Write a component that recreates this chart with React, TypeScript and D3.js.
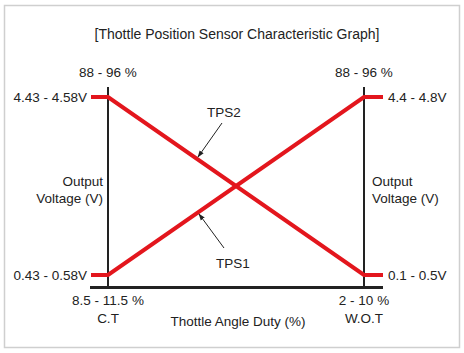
import React from "react";
import * as d3 from "d3";

// throttle positions along the bottom axis
const positions = ["C.T", "W.O.T"];
const dutyLabels = ["8.5 - 11.5 %", "2 - 10 %"];
const topDutyLabels = ["88 - 96 %", "88 - 96 %"];

// voltage level labels at each end (high, low)
const leftVoltLabels = ["4.43 - 4.58V", "0.43 - 0.58V"];
const rightVoltLabels = ["4.4 - 4.8V", "0.1 - 0.5V"];

// normalised output level (0 = low, 1 = high) at C.T and W.O.T
const tps1 = [0, 1];
const tps2 = [1, 0];

const W = 464;
const H = 353;
const RED = "#e3161d";
const FONT = "'Liberation Sans', Arial, sans-serif";

export default function App() {
  const x = d3.scalePoint<string>().domain(positions).range([108, 364]);
  const y = d3.scaleLinear().domain([0, 1]).range([275, 97]);
  const stub = 17;

  const line = d3
    .line<[number, number]>()
    .x((d) => d[0])
    .y((d) => d[1]);

  const seriesPath = (vals: number[]) => {
    const x0 = x(positions[0])!;
    const x1 = x(positions[1])!;
    return line([
      [x0 - stub, y(vals[0])],
      [x0, y(vals[0])],
      [x1, y(vals[1])],
      [x1 + stub + 2, y(vals[1])],
    ]);
  };

  const xl = x(positions[0])!;
  const xr = x(positions[1])!;
  const axisY = 287.5;

  return (
    <svg
      width={W}
      height={H}
      style={{ position: "absolute", left: 0, top: 0, background: "#fff" }}
      fontFamily={FONT}
      fontSize={13.5}
      fill="#222"
    >
      <defs>
        <marker id="arr" viewBox="0 0 10 10" refX="9" refY="5" markerWidth="7" markerHeight="7" orient="auto">
          <path d="M0,1.5 L10,5 L0,8.5 z" fill="#222" />
        </marker>
      </defs>
      <rect x={4.5} y={5.5} width={455} height={342} fill="#fff" stroke="#cfcfcf" strokeWidth={1.5} />

      <text x={237} y={39} textAnchor="middle" fontSize={14}>
        [Thottle Position Sensor Characteristic Graph]
      </text>

      {/* vertical axes */}
      {positions.map((p) => (
        <line key={p} x1={x(p)} x2={x(p)} y1={87} y2={axisY} stroke="#222" strokeWidth={2} />
      ))}
      {/* bottom axis */}
      <line x1={90} x2={383} y1={axisY} y2={axisY} stroke="#222" strokeWidth={3} />

      {/* series */}
      <path d={seriesPath(tps1) ?? ""} fill="none" stroke={RED} strokeWidth={4} />
      <path d={seriesPath(tps2) ?? ""} fill="none" stroke={RED} strokeWidth={4} />

      {/* top duty labels */}
      {positions.map((p, i) => (
        <text key={p} x={x(p)} y={77} textAnchor="middle">
          {topDutyLabels[i]}
        </text>
      ))}

      {/* voltage labels */}
      {leftVoltLabels.map((t, i) => (
        <text key={t} x={87} y={y(1 - i) + 5} textAnchor="end">
          {t}
        </text>
      ))}
      {rightVoltLabels.map((t, i) => (
        <text key={t} x={388} y={y(1 - i) + 5} textAnchor="start">
          {t}
        </text>
      ))}

      {/* axis titles */}
      <text x={xl - 5} y={186} textAnchor="end">Output</text>
      <text x={xl - 5} y={203} textAnchor="end">Voltage (V)</text>
      <text x={xr + 8} y={186} textAnchor="start">Output</text>
      <text x={xr + 8} y={203} textAnchor="start">Voltage (V)</text>

      {/* bottom labels */}
      {positions.map((p, i) => (
        <g key={p}>
          <text x={x(p)} y={305} textAnchor="middle">{dutyLabels[i]}</text>
          <text x={x(p)} y={323} textAnchor="middle">{p}</text>
        </g>
      ))}
      <text x={238} y={326} textAnchor="middle">Thottle Angle Duty (%)</text>

      {/* series callouts */}
      <text x={224} y={117} textAnchor="middle">TPS2</text>
      <line x1={222} y1={123} x2={198} y2={157} stroke="#222" strokeWidth={1} markerEnd="url(#arr)" />
      <text x={233} y={268} textAnchor="middle">TPS1</text>
      <line x1={224} y1={248} x2={199} y2={214} stroke="#222" strokeWidth={1} markerEnd="url(#arr)" />
    </svg>
  );
}
